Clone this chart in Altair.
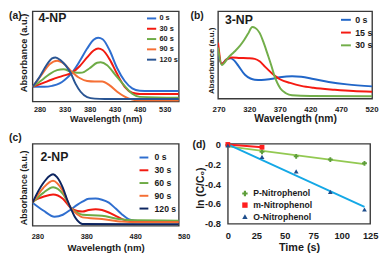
import altair as alt
import pandas as pd

FONT = "Liberation Sans"
TXT = "#1b1b1b"

# ---------------- (a) 4-NP ----------------
a_labels = ["0 s", "30 s", "60 s", "90 s", "120 s"]
a_colors = ["#2F6ECF", "#F21A10", "#6EAB46", "#F56F35", "#2A5593"]
a_wl_0 = [266, 290, 305, 320, 330, 345, 360, 375, 388, 397, 406, 420, 435, 450, 465, 480, 500, 558]
a_ab_0 = [15, 15, 16, 18.5, 22, 29.5, 41, 54, 63, 65, 63.5, 52, 34, 21, 13.5, 11, 10.7, 10.7]
a_wl_30 = [266, 285, 305, 325, 345, 360, 375, 388, 397, 406, 420, 435, 450, 465, 480, 558]
a_ab_30 = [15, 18.5, 22.5, 26, 29.5, 36, 45, 52, 54, 52.5, 43, 28, 15, 9, 7.8, 7.7]
a_wl_60 = [266, 285, 300, 315, 328, 342, 355, 365, 380, 395, 402, 415, 430, 449, 465, 480, 558]
a_ab_60 = [15, 22, 28, 32, 33, 30.5, 29.3, 29.5, 34, 39.5, 40, 37, 28, 16.5, 8, 4.8, 4]
a_wl_90 = [266, 285, 300, 315, 325, 345, 360, 375, 390, 405, 420, 435, 450, 465, 480, 558]
a_ab_90 = [15, 28, 38, 41.7, 40, 30, 24, 21, 20.5, 20.5, 16.5, 10, 5, 2, 1, 0.7]
a_wl_120 = [266, 280, 295, 305, 312, 322, 342, 352, 362, 375, 390, 410, 558]
a_ab_120 = [15, 25, 38, 44, 45, 42, 29.3, 18, 10, 4.5, 3, 2.7, 2.7]
a_ticks = [280, 330, 380, 430, 480, 530]

# ---------------- (b) 3-NP ----------------
b_labels = ["0 s", "15 s", "30 s"]
b_colors = ["#2166C8", "#F51A12", "#72AE4A"]
b_wl_0 = [269, 275, 283, 290, 296, 302, 313, 322, 329, 340, 355, 370, 390, 405, 425, 450, 480, 521]
b_ab_0 = [47, 35.3, 40, 41, 38.5, 33.7, 24.3, 20.5, 19.3, 19, 20, 21.7, 22.7, 22.2, 20, 17, 14.5, 12.5]
b_wl_15 = [269, 275, 283, 291, 305, 318, 329, 337, 345, 355, 361, 371, 387, 405, 425, 460, 490, 521]
b_ab_15 = [57, 35.3, 40, 42, 41.5, 41.2, 40.5, 38, 33, 27, 23.7, 19.5, 16, 13, 11, 9, 7.7, 7]
b_wl_30 = [269, 275, 286, 296, 305, 312, 318, 325, 330, 337, 343, 350, 356, 361, 371, 380, 390, 420, 521]
b_ab_30 = [52, 34.3, 42, 48, 54, 60, 66, 73, 72, 67, 58, 45.3, 34, 23.7, 10.3, 5.5, 3.5, 2.7, 2.5]
b_ticks = [270, 320, 370, 420, 470, 520]

# ---------------- (c) 2-NP ----------------
c_labels = ["0 s", "30 s", "60 s", "90 s", "120 s"]
c_colors = ["#2F6ECF", "#F21A10", "#6EAB46", "#F56F35", "#0D2560"]
c_wl_0 = [270, 292, 315, 332, 349, 362, 372, 385, 399, 412, 426, 440, 453, 466, 480, 500, 569]
c_ab_0 = [23.5, 15.5, 9.2, 11.2, 16.8, 21.5, 24.5, 27.5, 27.8, 26.5, 23.5, 17.5, 11.5, 6.8, 5, 4.2, 4]
c_wl_30 = [270, 292, 312, 332, 349, 362, 372, 385, 399, 412, 426, 440, 453, 466, 480, 569]
c_ab_30 = [25.2, 29.5, 31.8, 27.5, 17.8, 15, 14.5, 16, 16.8, 16, 13.5, 10, 6.8, 5, 4.2, 3.8]
c_wl_60 = [270, 292, 312, 332, 349, 362, 372, 412, 446, 480, 569]
c_ab_60 = [23.5, 33.5, 39.2, 32.5, 17.8, 13, 11.2, 10.2, 6.8, 5.5, 5.2]
c_wl_90 = [270, 292, 312, 332, 349, 362, 372, 412, 453, 480, 569]
c_ab_90 = [23.5, 38.5, 45.8, 35.5, 17.5, 11.5, 8.5, 6.8, 4.2, 3.5, 3.5]
c_wl_120 = [270, 282, 292, 304, 312, 320, 332, 340, 349, 356, 362, 372, 569]
c_ab_120 = [23.5, 35.5, 43.5, 50.5, 52.5, 49.5, 38.5, 27.5, 16.8, 9.5, 5.2, 1.8, 1.5]
c_ticks = [280, 330, 380, 430, 480, 530]
c_extra_tick = [580]

# ---------------- (d) kinetics ----------------
d_labels = ["P-Nitrophenol", "m-Nitrophenol", "O-Nitrophenol"]
d_time = [0, 30, 60, 90, 120]
d_p = [-0.005, -0.075, -0.12, -0.152, -0.19]
d_m_time = [0, 30]
d_m = [0.0, -0.028]
d_o = [-0.01, -0.125, -0.272, -0.479, -0.656]
d_fit_t = [0, 120]
d_fit_p = [-0.019, -0.198]
d_fit_o = [0.0, -0.63]
d_line_colors = ["#93C952", "#FF1E1E", "#14A8E6"]
d_point_colors = ["#5E9E3A", "#FF1E1E", "#1F4E8C"]
d_shapes = ["cross", "square", "triangle-up"]
d_xticks = [0, 25, 50, 75, 100, 125]
d_yticks = [0, -0.2, -0.4, -0.6, -0.8]


def spectra_df(labels, wls, vals):
    rows = []
    for lab, w, v in zip(labels, wls, vals):
        for x, y in zip(w, v):
            rows.append({"series": lab, "wl": x, "ab": y})
    return pd.DataFrame(rows)


def text_layer(txt, x, y, size, align="left", baseline="top"):
    return alt.Chart(pd.DataFrame({"t": [txt]})).mark_text(
        font=FONT, fontWeight="bold", fontSize=size, color=TXT,
        align=align, baseline=baseline
    ).encode(x=alt.value(x), y=alt.value(y), text="t:N")


def spectra_panel(df, labels, colors, xdom, xticks, w, h, ymax, p, extra=None):
    x = alt.X("wl:Q", scale=alt.Scale(domain=xdom, nice=False, zero=False),
              axis=alt.Axis(values=xticks, title="Wavelength (nm)", labelFont=FONT,
                            labelFontSize=p["tick_fs"], labelFontWeight="bold", labelColor=TXT,
                            labelPadding=p["lab_pad"], labelFlush=False, labelOverlap=False,
                            labelBound=False, ticks=False, domain=False, grid=False,
                            titleFont=FONT, titleFontSize=p["xt_fs"], titleFontWeight="bold",
                            titleColor=TXT, titleY=p["xt_y"], titleBaseline="middle"))
    y = alt.Y("ab:Q", scale=alt.Scale(domain=[0, ymax], nice=False, zero=False),
              axis=alt.Axis(title="Absorbance (a.u.)", labels=False, ticks=False, domain=False,
                            grid=False, titleFont=FONT, titleFontSize=p["yt_fs"],
                            titleFontWeight="bold", titleColor=TXT, titleX=p["yt_x"],
                            titleY=p["yt_y"], titleAngle=270, titleAlign="center",
                            titleBaseline="middle"))
    color = alt.Color("series:N", sort=labels, scale=alt.Scale(domain=labels, range=colors),
                      legend=alt.Legend(orient="none", legendX=p["lx"], legendY=p["ly"],
                                        title=None, direction="vertical", symbolType="stroke",
                                        symbolStrokeWidth=2, symbolSize=p["sym"],
                                        labelFont=FONT, labelFontSize=p["leg_fs"],
                                        labelFontWeight="bold", labelColor=TXT,
                                        labelOffset=p["loff"], rowPadding=p["rp"], padding=0))
    lines = alt.Chart(df).mark_line(interpolate="monotone", strokeWidth=2, clip=True).encode(
        x=x, y=y, color=color)
    layers = [lines,
              text_layer(p["name"], p["nx"], p["ny"], 12.5, baseline="middle"),
              text_layer(p["tag"], p["tx"], p["ty"], 10.5)]
    if extra:
        # a tick label just beyond the plotted range, placed through the x scale
        layers.append(alt.Chart(pd.DataFrame({"wl": extra, "t": [str(v) for v in extra]}))
                      .mark_text(font=FONT, fontWeight="bold", fontSize=p["tick_fs"], color=TXT,
                                 baseline="top")
                      .encode(x="wl:Q", y=alt.value(h + p["lab_pad"]), text="t:N"))
    return alt.layer(*layers).properties(width=w, height=h)


df_a = spectra_df(a_labels, [a_wl_0, a_wl_30, a_wl_60, a_wl_90, a_wl_120],
                  [a_ab_0, a_ab_30, a_ab_60, a_ab_90, a_ab_120])
df_b = spectra_df(b_labels, [b_wl_0, b_wl_15, b_wl_30], [b_ab_0, b_ab_15, b_ab_30])
df_c = spectra_df(c_labels, [c_wl_0, c_wl_30, c_wl_60, c_wl_90, c_wl_120],
                  [c_ab_0, c_ab_30, c_ab_60, c_ab_90, c_ab_120])

pa = spectra_panel(df_a, a_labels, a_colors, [266, 558], a_ticks, 149, 92, 92, dict(
    tick_fs=7.5, lab_pad=4, xt_fs=9.2, xt_y=17.3, yt_fs=9.5, yt_x=-9.3, yt_y=42,
    lx=115.3, ly=1.3, sym=88, leg_fs=7.5, loff=2, rp=0.5,
    name="4-NP", nx=6, ny=7, tag="(a)", tx=-24, ty=0))
pb = spectra_panel(df_b, b_labels, b_colors, [269, 521], b_ticks, 157, 89, 89, dict(
    tick_fs=8, lab_pad=7, xt_fs=10.5, xt_y=20.3, yt_fs=8, yt_x=-6.6, yt_y=50,
    lx=124.3, ly=2.7, sym=100, leg_fs=9, loff=3.4, rp=2,
    name="3-NP", nx=7, ny=9.3, tag="(b)", tx=-28, ty=0))
pc = spectra_panel(df_c, c_labels, c_colors, [270, 569], c_ticks, 149, 83.5, 83.5, dict(
    tick_fs=7.5, lab_pad=7.3, xt_fs=9.8, xt_y=21.8, yt_fs=9, yt_x=-8.7, yt_y=44.5,
    lx=108, ly=8.5, sym=81, leg_fs=8.8, loff=5.3, rp=2,
    name="2-NP", nx=8, ny=14, tag="(c)", tx=-24, ty=-10.5), extra=c_extra_tick)

# panel d
rows_pts = []
for t, v in zip(d_time, d_p):
    rows_pts.append({"series": d_labels[0], "t": t, "v": v})
for t, v in zip(d_m_time, d_m):
    rows_pts.append({"series": d_labels[1], "t": t, "v": v})
for t, v in zip(d_time, d_o):
    rows_pts.append({"series": d_labels[2], "t": t, "v": v})
df_pts = pd.DataFrame(rows_pts)

dx = alt.X("t:Q", scale=alt.Scale(domain=[0, 125], nice=False),
           axis=alt.Axis(values=d_xticks, title="Time (s)", labelFont=FONT, labelFontSize=9.5,
                         labelFontWeight="bold", labelColor=TXT, labelPadding=7.5,
                         labelFlush=False, labelOverlap=False, ticks=False, domain=False,
                         grid=False, titleFont=FONT, titleFontSize=11, titleFontWeight="bold",
                         titleColor=TXT, titleY=24, titleBaseline="middle"))
dy = alt.Y("v:Q", scale=alt.Scale(domain=[-0.8, 0.007], nice=False, zero=False),
           axis=alt.Axis(values=d_yticks, title="ln (C/C\u2080)",
                         labelExpr="datum.value == 0 ? '0' : '-' + format(abs(datum.value), '.1f')",
                         labelFont=FONT, labelFontSize=9.5, labelFontWeight="bold",
                         labelColor=TXT, labelPadding=7.5, labelFlush=False, labelOverlap=False,
                         ticks=False, domain=False, grid=False, titleFont=FONT,
                         titleFontSize=10.5, titleFontWeight="bold", titleColor=TXT,
                         titleX=-27.3, titleY=44.7, titleAngle=270, titleAlign="center",
                         titleBaseline="middle"))


def fit_line(ts, vs, col):
    return alt.Chart(pd.DataFrame({"t": ts, "v": vs})).mark_line(
        strokeWidth=1.9, color=col).encode(x=dx, y=dy)


d_leg = alt.Legend(orient="none", legendX=13, legendY=46.3, title=None, direction="vertical",
                   symbolSize=30, labelFont=FONT, labelFontSize=8.8, labelFontWeight="bold",
                   labelColor=TXT, labelOffset=4, rowPadding=1.8, padding=0)
d_points = alt.Chart(df_pts).mark_point(filled=True, size=24, opacity=1).encode(
    x=dx, y=dy,
    color=alt.Color("series:N", sort=d_labels,
                    scale=alt.Scale(domain=d_labels, range=d_point_colors), legend=d_leg),
    shape=alt.Shape("series:N", sort=d_labels,
                    scale=alt.Scale(domain=d_labels, range=d_shapes), legend=d_leg))
pd_ = alt.layer(
    fit_line(d_fit_t, d_fit_p, d_line_colors[0]),
    fit_line(d_m_time, d_m, d_line_colors[1]),
    fit_line(d_fit_t, d_fit_o, d_line_colors[2]),
    d_points,
    text_layer("(d)", -36, -4, 10.5),
).properties(width=145, height=81.5)

res = dict(color="independent", shape="independent")
row1 = alt.hconcat(pa, pb, spacing=40, bounds="flush").resolve_scale(**res)
row2 = alt.hconcat(pc, pd_, spacing=50, bounds="flush").resolve_scale(**res)
chart = alt.vconcat(row1, row2, spacing=7, bounds="full").resolve_scale(**res).properties(
    padding=0, background="white"
).configure_view(stroke="#3a3a3a", strokeWidth=1.4)

chart.save("out.html", embed_options={"renderer": "svg", "actions": False})
